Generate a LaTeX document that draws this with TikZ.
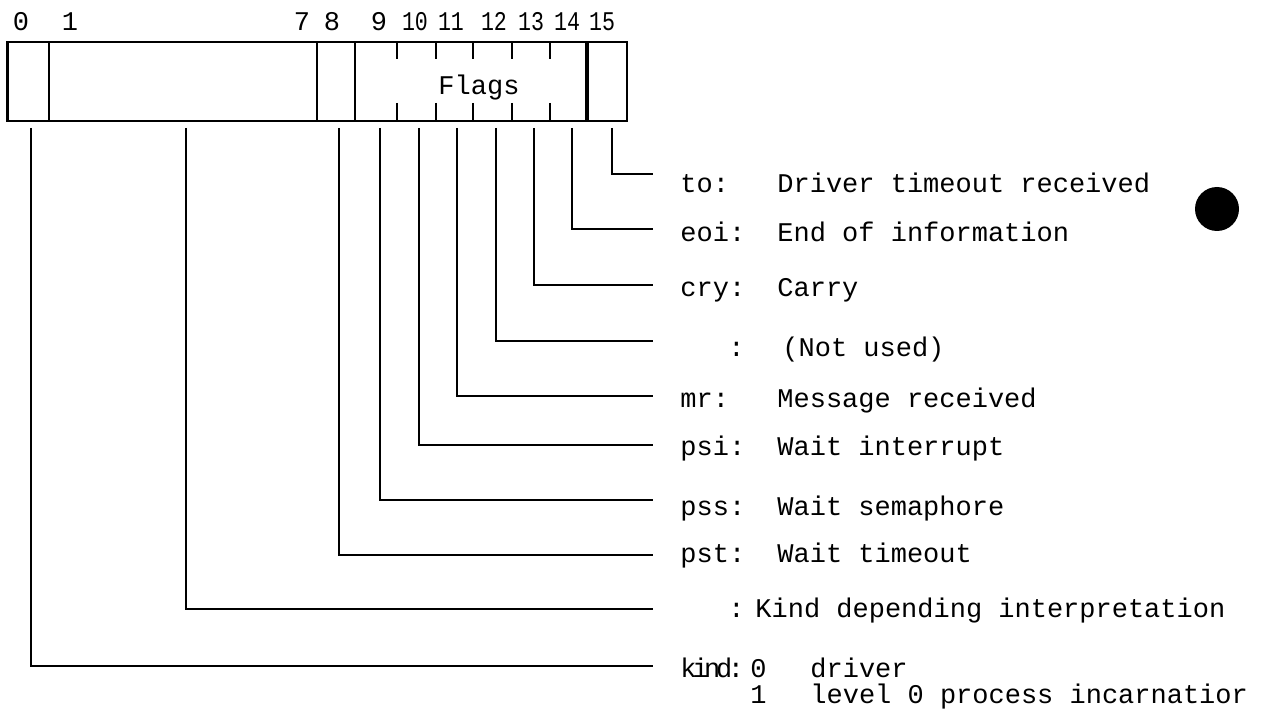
\documentclass[tikz,border=0pt]{standalone}
\usepackage{fontspec}
\setmainfont{Liberation Mono}
\newfontfamily\tightmono[LetterSpace=-16]{Liberation Mono}
\begin{document}
\begin{tikzpicture}[x=0.5pt,y=-0.5pt,
  box/.style={line width=1.3pt},
  thickdiv/.style={line width=1.7pt},
  conn/.style={line width=0.9pt},
  lbl/.style={anchor=base west, inner sep=0pt, font=\fontsize{13.5}{16}\selectfont},
  num/.style={anchor=base, inner sep=0pt, font=\fontsize{13.5}{16}\selectfont}]
\useasboundingbox (0,0) rectangle (1282,722);
% word box
\draw[box] (7.5,42) rectangle (627,121);
\foreach \x in {49,317,355} \draw[box] (\x,42) -- (\x,121);
\draw[thickdiv] (587,42) -- (587,121);
\foreach \x in {397,436,473,512,550} {
  \draw[box] (\x,42) -- (\x,59);
  \draw[box] (\x,103) -- (\x,121);
}
\node[num] (flags) at (479,95) {Flags};
% bit numbers
\foreach \t/\x [count=\i] in {0/21,1/70,7/302,8/332,9/379}
  \node[num] (bit\i) at (\x,31) {\t};
\foreach \t/\x [count=\i from 6] in {10/415,11/451,12/494,13/531,14/567,15/602}
  \node[num] (bit\i) at (\x,31) {\scalebox{0.8}[1]{\t}};
% connectors
\foreach \n/\x/\y in {15/612/174,14/572/229,13/534/285,12/496/341,11/457/396,10/419/445,9/380/500,8/339/555,1/186/609,0/31/666} {
  \coordinate (s\n) at (\x,128);
  \coordinate (e\n) at (653,\y);
  \draw[conn] (s\n) |- (e\n);
}
% labels
\node[lbl] (kto) at (680,193) {to:};
\node[lbl] (dto) at (777,193) {Driver timeout received};
\node[lbl] (keoi) at (680,242) {eoi:};
\node[lbl] (deoi) at (777,242) {End of information};
\node[lbl] (kcry) at (680,297) {cry:};
\node[lbl] (dcry) at (777,297) {Carry};
\node[lbl] (knu) at (728,357) {:};
\node[lbl] (dnu) at (782,357) {(Not used)};
\node[lbl] (kmr) at (680,408) {mr:};
\node[lbl] (dmr) at (777,408) {Message received};
\node[lbl] (kpsi) at (680,455) {psi:};
\node[lbl] (dpsi) at (777,455) {Wait interrupt};
\node[lbl] (kpss) at (680,515) {pss:};
\node[lbl] (dpss) at (777,515) {Wait semaphore};
\node[lbl] (kpst) at (680,562) {pst:};
\node[lbl] (dpst) at (777,562) {Wait timeout};
\node[lbl] (kkd) at (728,617) {:};
\node[lbl] (dkd) at (755,617) {Kind depending interpretation};
\node[lbl] (kkind) at (680,677) {\tightmono kind:};
\node[lbl] (v0) at (750,677) {0};
\node[lbl] (d0) at (810,677) {driver};
\node[lbl] (v1) at (750,703) {1};
\node[lbl] (d1) at (810,703) {level 0 process incarnatior};
% punch hole
\fill (1217,209) circle[radius=22];
\end{tikzpicture}
\end{document}
